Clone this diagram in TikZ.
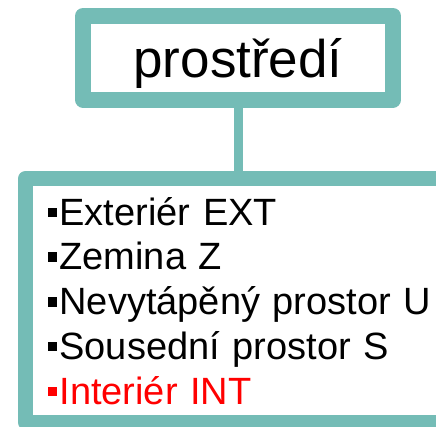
\documentclass[tikz,border=0pt]{standalone}
\usepackage{fontspec}
\setmainfont{Liberation Sans}
\definecolor{envteal}{RGB}{116,188,182}
\newcommand{\sqbullet}{\rule[8pt]{9pt}{9.5pt}\hspace{2.5pt}}

\begin{document}
\begin{tikzpicture}[
  x=1pt, y=-1pt,
  envbox/.style = {shape=rectangle, draw=envteal, fill=white, line width=16pt, line join=round,
                   minimum width=310pt, minimum height=83.5pt, inner sep=0pt,
                   text height=45pt, text depth=5pt, font=\fontsize{53}{60}\selectfont},
  listbox/.style = {shape=rectangle, draw=envteal, fill=white, line width=15pt, line join=round,
                    anchor=north west, outer sep=0pt, inner xsep=22.5pt, inner ysep=0pt, align=left,
                    text width=430pt, text height=46.5pt, text depth=197.5pt,
                    font=\fontsize{38}{44.75}\selectfont},
  link/.style = {draw=envteal, line width=9pt}
]
  \useasboundingbox (0,0) rectangle (436,426);
  \clip (0,0) rectangle (436,426);

  \node[envbox] (env) at (238,57.75) {prostředí};
  \node[listbox] (kinds) at (25.5,178.5) {%
    \sqbullet Exteriér EXT\\
    \sqbullet Zemina Z\\
    \sqbullet Nevytápěný prostor U\\
    \sqbullet Sousední prostor S\\
    {\color{red}\sqbullet Interiér INT}};

  \draw[link] (env.south) -- (env.south |- kinds.north);
\end{tikzpicture}
\end{document}
